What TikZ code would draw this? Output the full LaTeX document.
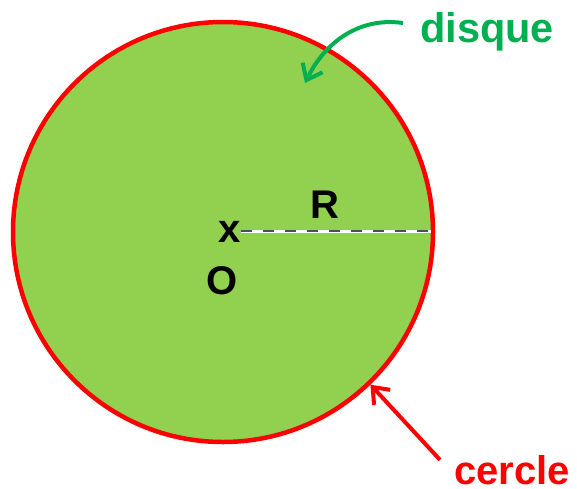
\documentclass[tikz,border=0pt]{standalone}
\usepackage{fontspec}
\setmainfont{Liberation Sans}
\usetikzlibrary{arrows.meta,calc,positioning}
\definecolor{diskgreen}{HTML}{92D050}
\definecolor{labelgreen}{HTML}{00B050}
\definecolor{borderred}{HTML}{FF0000}
\definecolor{dashgray}{HTML}{505050}

\begin{document}
\begin{tikzpicture}[
  x=1pt, y=1pt,
  every node/.style={font=\fontsize{40}{48}\selectfont\bfseries, inner sep=0pt},
  surface/.style={circle, draw=borderred, line width=4.5pt, fill=diskgreen, minimum size=420pt},
  word/.style={anchor=base west},
  pointer/.style={-{Straight Barb[length=14pt, width=22pt]}, line width=4pt}
]
\useasboundingbox (0,0) rectangle (577,-488);
\node[surface] (disk) at (223,-232) {};
\node[word] (centre) at (218,-242) {x};
\node[word] (origin) at (206,-294) {O};
\node[word] (radius) at (310,-218) {R};
\node[word, text=labelgreen, font=\fontsize{41.5}{48}\selectfont\bfseries] (disque) at (420,-42) {disque};
\node[word, text=borderred] (cercle) at (454,-484) {cercle};
\coordinate (inside) at (305,-83);
% radius, white under grey dashes
\draw[white, line width=2.5pt] (centre.east) -- ([xshift=-4pt]centre.east -| disk.east);
\draw[dashgray, line width=2pt, dash pattern=on 11pt off 11pt] (centre.east) -- ([xshift=-4pt]centre.east -| disk.east);
\draw[pointer, labelgreen] ([shift={(-17pt,19pt)}]disque.base west) to[out=172, in=64] (inside);
\draw[pointer, borderred] ([shift={(-14pt,-5pt)}]cercle.north west) -- (disk.-46);
\end{tikzpicture}
\end{document}
